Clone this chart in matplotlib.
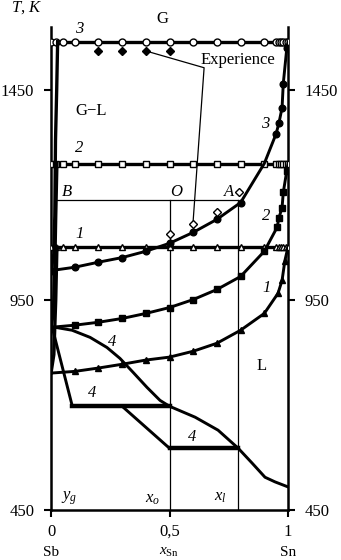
import numpy as np
import matplotlib
matplotlib.use("Agg")
import matplotlib.pyplot as plt

plt.rcParams['font.family'] = 'Liberation Serif'
plt.rcParams['mathtext.fontset'] = 'custom'
plt.rcParams['mathtext.rm'] = 'Liberation Serif'
plt.rcParams['mathtext.it'] = 'Liberation Serif:italic'

# isotherms (open markers) : temperature of each horizontal line
T_iso3 = 1565
T_iso2 = 1275
T_iso1 = 1076
T_B = 1187
iso_x = [0.0, 0.02, 0.05, 0.1, 0.2, 0.3, 0.4, 0.5, 0.6, 0.7, 0.8, 0.9,
         0.95, 0.96, 0.97, 0.98, 0.99, 1.0]

# curve 3 (filled circles)
c3_x = [0.0, 0.1, 0.2, 0.3, 0.4, 0.5, 0.6, 0.7, 0.8, 0.9, 0.95, 0.962, 0.975, 0.98, 0.995, 1.0]
c3_T = [1020, 1028, 1040, 1051, 1066, 1085, 1111, 1142, 1182, 1275, 1346, 1372, 1408, 1465, 1550, 1565]
c3_mk = [0, 1, 2, 3, 4, 5, 6, 7, 8, 10, 11, 12, 13, 14]

# curve 2 (filled squares)
c2_x = [0.0, 0.1, 0.2, 0.3, 0.4, 0.5, 0.6, 0.7, 0.8, 0.9, 0.954, 0.962, 0.975, 0.98, 0.995, 1.0]
c2_T = [885, 890, 897, 906, 918, 932, 951, 975, 1006, 1066, 1123, 1146, 1170, 1206, 1258, 1275]
c2_mk = [1, 2, 3, 4, 5, 6, 7, 8, 9, 10, 11, 12, 13, 14]

# curve 1 (filled triangles)
c1_x = [0.0, 0.1, 0.2, 0.3, 0.4, 0.5, 0.6, 0.7, 0.8, 0.9, 0.958, 0.975, 0.987, 1.0]
c1_T = [776, 780, 788, 797, 807, 814, 828, 847, 878, 918, 966, 997, 1044, 1076]
c1_mk = [1, 2, 3, 4, 5, 6, 7, 8, 9, 10, 11, 12]

# vapour branches near pure Sb
g3_x = [0.028, 0.024, 0.019, 0.016, 0.012, 0.0]
g3_T = [1565, 1450, 1330, 1150, 1060, 1020]
g2_x = [0.025, 0.02, 0.015, 0.01, 0.0]
g2_T = [1275, 1150, 1000, 920, 885]
g1_x = [0.025, 0.02, 0.012, 0.0]
g1_T = [1076, 950, 820, 776]

# curves 4
c4a_x = [0.005, 0.017, 0.089, 0.165, 0.236, 0.291, 0.346, 0.405, 0.46, 0.5, 0.608, 0.705, 0.79, 0.848, 0.903, 0.945, 1.0]
c4a_T = [885, 885, 878, 861, 837, 811, 778, 742, 711, 697, 671, 640, 597, 562, 528, 517, 505]
c4b_x = [0.005, 0.09, 0.5]
c4b_T = [885, 697, 697]
c4c_x = [0.3, 0.5, 0.79]
c4c_T = [697, 597, 597]

# experimental points
exp_open_x = [0.5, 0.6, 0.7, 0.795]
exp_open_T = [1108, 1132, 1160, 1206]
exp_fill_x = [0.2, 0.3, 0.4, 0.5]
exp_fill_T = [1543, 1543, 1543, 1543]

x_O = 0.5
x_A = 0.79

fig = plt.figure(figsize=(3.41, 5.60), dpi=100)
ax = fig.add_axes([51/341, 50/560, 237/341, 483/560])

lw = 2.1
# isotherms
ax.plot(iso_x, [T_iso3]*len(iso_x), '-', color='black', lw=2.4, marker='o',
        mfc='white', mec='black', ms=5, mew=1, zorder=3)
ax.plot(iso_x, [T_iso2]*len(iso_x), '-', color='black', lw=2.4, marker='s',
        mfc='white', mec='black', ms=5, mew=1, zorder=3)
ax.plot(iso_x, [T_iso1]*len(iso_x), '-', color='black', lw=2.4, marker='^',
        mfc='white', mec='black', ms=4.5, mew=1, zorder=3)

# B - A line and verticals
ax.plot([0.02, x_A], [T_B, T_B], color='black', lw=0.9)
ax.plot([x_O, x_O], [450, T_B], color='black', lw=0.9)
ax.plot([x_A, x_A], [450, T_B], color='black', lw=0.9)

# liquidus curves
ax.plot(c3_x, c3_T, color='black', lw=lw, zorder=4)
ax.plot([c3_x[i] for i in c3_mk], [c3_T[i] for i in c3_mk], 'o', color='black', ms=4.8, zorder=4)
ax.plot(c2_x, c2_T, color='black', lw=lw, zorder=4)
ax.plot([c2_x[i] for i in c2_mk], [c2_T[i] for i in c2_mk], 's', color='black', ms=4.8, zorder=4)
ax.plot(c1_x, c1_T, color='black', lw=lw, zorder=4)
ax.plot([c1_x[i] for i in c1_mk], [c1_T[i] for i in c1_mk], '^', color='black', ms=4.3, zorder=4)

# vapour branches
for gx, gT in [(g3_x, g3_T), (g2_x, g2_T), (g1_x, g1_T)]:
    ax.plot(gx, gT, color='black', lw=2.4, zorder=4)

# curves 4
ax.plot(c4a_x, c4a_T, color='black', lw=lw)
ax.plot(c4b_x, c4b_T, color='black', lw=lw)
ax.plot([c4b_x[1], c4b_x[2]], [c4b_T[1], c4b_T[2]], color='black', lw=3.2)
ax.plot(c4c_x, c4c_T, color='black', lw=lw)
ax.plot([c4c_x[1], c4c_x[2]], [c4c_T[1], c4c_T[2]], color='black', lw=3.2)

# experiments
ax.plot(exp_open_x, exp_open_T, 'D', mfc='white', mec='black', ms=4.5, mew=1, zorder=5)
ax.plot(exp_fill_x, exp_fill_T, 'D', color='black', ms=4.5, zorder=5)
ax.plot([exp_fill_x[2], 0.646, exp_open_x[1]], [exp_fill_T[2], 1503, exp_open_T[1] + 8],
        color='black', lw=0.9)
ax.text(0.63, 1522, 'Experience', fontsize=12, ha='left', va='center')

# labels
it = dict(fontsize=12, style='italic', ha='center', va='center')
ax.text(0.12, 1596, '3', **it)
ax.text(0.12, 1313, '2', **it)
ax.text(0.12, 1108, '1', **it)
ax.text(0.903, 1370, '3', **it)
ax.text(0.91, 1151, '2', **it)
ax.text(0.91, 978, '1', **it)
ax.text(0.068, 1206, 'B', **it)
ax.text(0.53, 1206, 'O', **it)
ax.text(0.75, 1206, 'A', **it)
ax.text(0.26, 849, '4', **it)
ax.text(0.173, 728, '4', **it)
ax.text(0.595, 623, '4', **it)
ax.text(0.47, 1619, 'G', fontsize=12, ha='center', va='center')
ax.text(0.17, 1400, 'G\u2212L', fontsize=12, ha='center', va='center')
ax.text(0.89, 792, 'L', fontsize=12, ha='center', va='center')
ax.text(0.075, 457, '$y_g$', fontsize=12, ha='center', va='bottom')
ax.text(0.43, 457, '$x_o$', fontsize=12, ha='center', va='bottom')
ax.text(0.715, 462, '$x_l$', fontsize=12, ha='center', va='bottom')
fig.text(27/341, 1 - 8/560, '$T$, $K$', fontsize=12, ha='center', va='center')

ax.set_xlim(0, 1)
ax.set_ylim(450, 1600)
ax.spines['top'].set_visible(False)
for s in ['left', 'right', 'bottom']:
    ax.spines[s].set_linewidth(1.8)
ax.set_yticks([450, 950, 1450])
ax.set_xticks([0, 0.5, 1])
ax.set_xticklabels(['0', '0,5', '1'])
ax.tick_params(axis='y', direction='out', length=5, width=1.5, pad=7, labelsize=12,
               left=True, right=True, labelleft=True, labelright=True)
ax.tick_params(axis='x', direction='out', length=5, width=1.5, pad=5, labelsize=12)
for xv, lab in [(0, 'Sb'), (0.5, '$x_{\\mathrm{Sn}}$'), (1, 'Sn')]:
    ax.text(xv, -0.087, lab, transform=ax.get_xaxis_transform(), fontsize=11,
            ha='center', va='center')

fig.savefig('out.png', dpi=100)
